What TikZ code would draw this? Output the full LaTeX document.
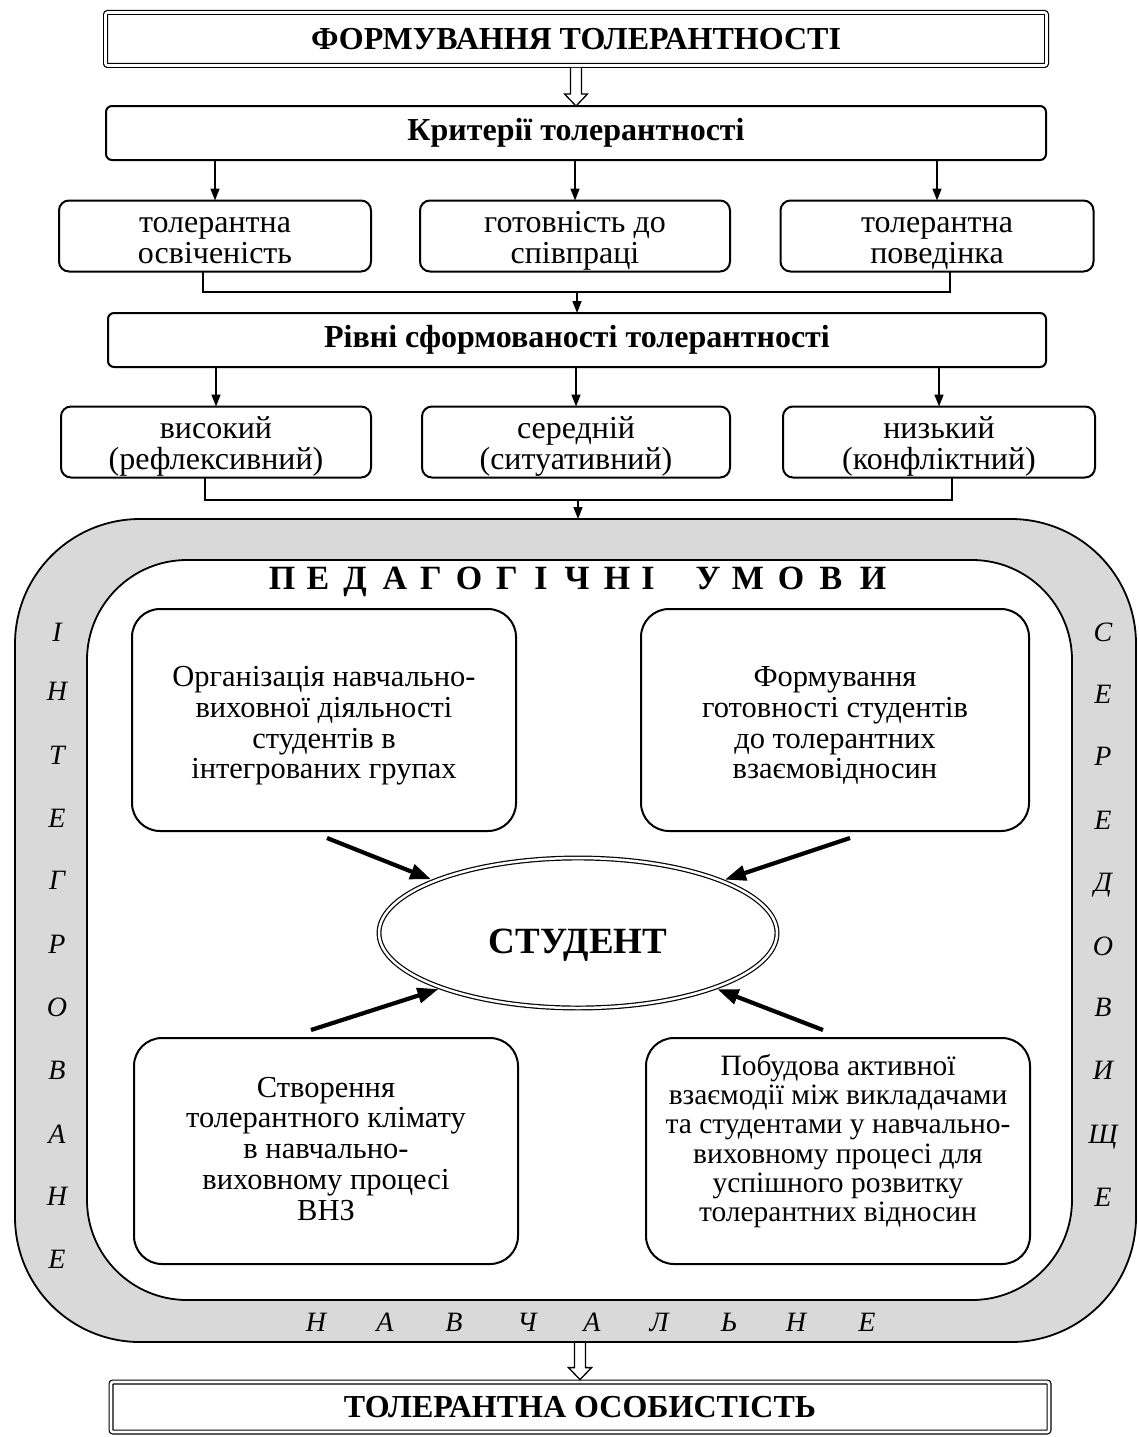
\documentclass[tikz,border=0pt]{standalone}
\usepackage{fontspec}
\setmainfont{Liberation Serif}
\usetikzlibrary{arrows.meta,shapes.geometric,calc}
\definecolor{bandfill}{gray}{0.85}
\newcommand\hollowarrow[2]{%
  \draw[line width=1.3pt,fill=white,line join=miter]
  ($(#1)+(-5.5,0)$) -- ($(#2)+(-5.5,-12)$) -- ($(#2)+(-11.5,-12)$) -- (#2)
  -- ($(#2)+(11.5,-12)$) -- ($(#2)+(5.5,-12)$) -- ($(#1)+(5.5,0)$);}
\newcommand\topst[1][0.75em]{\vrule width 0pt height #1 depth 0pt\relax}
\newcommand\botst[1][0.25em]{\vrule width 0pt height 0pt depth #1\relax}
\begin{document}
\begin{tikzpicture}[x=1pt,y=-1pt,
  every node/.style={inner sep=0pt,outer sep=0pt,align=center},
  dbl/.style={draw,double,double distance=2.6pt,line width=1.2pt,rounded corners=2pt},
  bigbox/.style={draw,line width=2pt,rounded corners=6pt},
  smallbox/.style={draw,line width=2pt,rounded corners=10pt,minimum height=71pt},
  innerbox/.style={draw,line width=2pt,rounded corners=28pt},
  arr/.style={line width=1.6pt,-{Triangle[length=12pt,width=9pt]}},
  fat/.style={line width=4.2pt,-{Triangle[length=21pt,width=15pt]},shorten >=4pt},
  title/.style={font=\fontsize{32}{32}\selectfont\bfseries},
  sub/.style={font=\fontsize{32}{31}\selectfont},
  inner/.style={font=\fontsize{30.5}{30.7}\selectfont},
  innersm/.style={font=\fontsize{29.5}{29.3}\selectfont},
  band/.style={font=\fontsize{28}{30}\selectfont\itshape,text height=19pt,text depth=0pt},
  ped/.style={font=\fontsize{34}{36}\selectfont\bfseries,text height=22pt,text depth=0pt},
]
\useasboundingbox (0,0) rectangle (1138,1437);

% top part
\node[dbl,title,minimum width=941pt,minimum height=53pt] (top) at (576,39) {ФОРМУВАННЯ ТОЛЕРАНТНОСТІ};
\node[bigbox,title,minimum width=940pt,minimum height=54pt] (crit) at (576,133) {Критерії толерантності};
\hollowarrow{[yshift=-2.4pt]top.south}{crit.north}

\node[smallbox,sub,minimum width=312pt] (c1) at (215,236) {\topst[32pt]толерантна\\освіченість\botst};
\node[smallbox,sub,minimum width=310pt] (c2) at (575,236) {\topst[32pt]готовність до\\співпраці\botst};
\node[smallbox,sub,minimum width=313pt] (c3) at (937,236) {\topst[32pt]толерантна\\поведінка\botst};
\foreach \c in {c1,c2,c3} \draw[arr] (crit.south -| \c) -- (\c.north);

\node[bigbox,title,minimum width=938pt,minimum height=54pt] (rivni) at (577,340) {Рівні сформованості толерантності};
\coordinate (j1) at (577,292);
\draw[line width=1.6pt] ([xshift=-12pt]c1.south) |- (j1) -| ([xshift=13pt]c3.south);
\draw[arr] (j1) -- (rivni.north);

\node[smallbox,sub,minimum width=310pt] (l1) at (216,442) {\topst[32pt]високий\\(рефлексивний)\botst};
\node[smallbox,sub,minimum width=308pt] (l2) at (576,442) {\topst[32pt]середній\\(ситуативний)\botst};
\node[smallbox,sub,minimum width=312pt] (l3) at (939,442) {\topst[32pt]низький\\(конфліктний)\botst};
\foreach \c in {l1,l2,l3} \draw[arr] (rivni.south -| \c) -- (\c.north);

% band
\draw[line width=1.8pt,fill=bandfill,rounded corners=125pt] (15,519) rectangle (1136,1342);
\draw[line width=1.8pt,fill=white,rounded corners=100pt] (87,560) rectangle (1072,1300);
\coordinate (j2) at (578,500);
\coordinate (bandtop) at (578,519);
\coordinate (bandbot) at (580,1343);
\draw[line width=1.6pt] ([xshift=-11pt]l1.south) |- (j2) -| ([xshift=13pt]l3.south);
\draw[arr] (j2) -- (bandtop);

\foreach \l/\y [count=\i] in {І/632,Н/691,Т/755,Е/818,Г/880,Р/944,О/1007,В/1070,А/1134,Н/1196,Е/1259}
  \node[band] (lb\i) at (57,\y) {\l};
\foreach \l/\y [count=\i] in {С/632,Е/694,Р/756,Е/820,Д/882,О/946,В/1007,И/1070,Щ/1134,Е/1197}
  \node[band] (rb\i) at (1103,\y) {\l};
\foreach \l/\x [count=\i] in {Н/316,А/385,В/454,Ч/527,А/592,Л/659,Ь/729,Н/796,Е/867}
  \node[band] (bb\i) at (\x,1322) {\l};
\foreach \l/\x [count=\i] in {П/282,Е/318,Д/355,А/395,Г/431,О/469,Г/507,І/541,Ч/577,Н/617,І/648,У/708,М/748,О/791,В/831,И/873}
  \node[ped] (pd\i) at (\x,578) {\l};

% inner boxes
\node[innerbox,inner,minimum width=384pt,minimum height=222pt] (b1) at (324,720) {\topst[33pt]Організація навчально-\\виховної діяльності\\студентів в\\інтегрованих групах\botst};
\node[innerbox,inner,minimum width=388pt,minimum height=222pt] (b2) at (835,720) {\topst[33pt]Формування\\готовності студентів\\до толерантних\\взаємовідносин\botst};
\node[innerbox,inner,minimum width=384pt,minimum height=226pt] (b3) at (326,1151) {\topst Створення\\толерантного клімату\\в навчально-\\виховному процесі\\ВНЗ\botst};
\node[innerbox,innersm,minimum width=384pt,minimum height=226pt] (b4) at (838,1151) {\topst Побудова активної\\взаємодії між викладачами\\та студентами у навчально-\\виховному процесі для\\успішного розвитку\\толерантних відносин\botst[27pt]};

\node[ellipse,draw,double,double distance=2.5pt,line width=1.2pt,minimum width=398pt,minimum height=150pt,
  font=\fontsize{37}{38}\selectfont\bfseries,text height=40pt,text depth=0pt] (st) at (578,933) {СТУДЕНТ};
\coordinate (s1) at (327,838);
\coordinate (s2) at (850,838);
\coordinate (s3) at (311,1030);
\coordinate (s4) at (823,1030);
\draw[fat] (s1) -- (st.160);
\draw[fat] (s2) -- (st.20);
\draw[fat] (s3) -- (st.202);
\draw[fat] (s4) -- (st.338);

% bottom
\node[dbl,title,minimum width=938pt,minimum height=50pt] (bot) at (580,1407) {ТОЛЕРАНТНА ОСОБИСТІСТЬ};
\hollowarrow{bandbot}{[yshift=2.4pt]bot.north}
\end{tikzpicture}
\end{document}
